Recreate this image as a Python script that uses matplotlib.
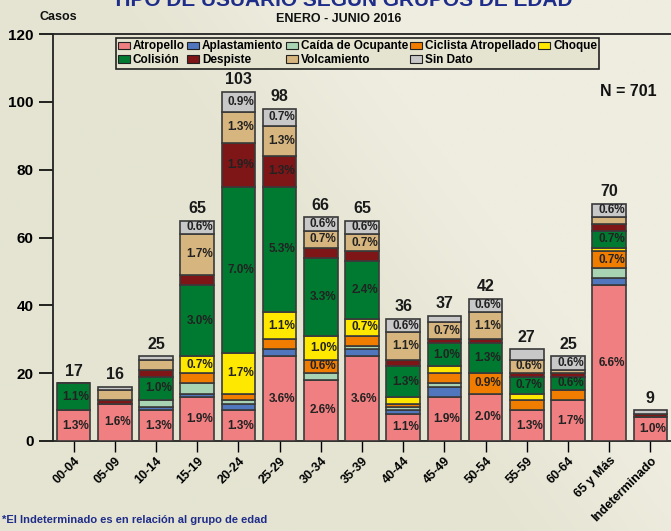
import numpy as np
import matplotlib
matplotlib.use('Agg')
from matplotlib import pyplot as plt
from matplotlib.patches import Patch

plt.rcParams['font.family'] = ['Liberation Sans', 'DejaVu Sans']

grupos = ['00-04', '05-09', '10-14', '15-19', '20-24', '25-29', '30-34', '35-39',
          '40-44', '45-49', '50-54', '55-59', '60-64', '65 y Más', 'Indeterminado']

atropello     = [9, 11, 9, 13, 9, 25, 18, 25, 8, 13, 14, 9, 12, 46, 7]
aplastamiento = [0, 0, 1, 1, 2, 2, 0, 2, 1, 3, 0, 0, 0, 2, 0]
caida         = [0, 0, 2, 3, 1, 0, 2, 1, 1, 1, 0, 0, 0, 3, 0]
ciclista      = [0, 0, 0, 3, 2, 3, 4, 3, 1, 3, 6, 3, 3, 5, 0]
choque        = [0, 0, 0, 5, 12, 8, 7, 5, 2, 2, 0, 2, 0, 1, 0]
colision      = [8, 0, 7, 21, 49, 37, 23, 17, 9, 7, 9, 5, 4, 5, 0]
despiste      = [0, 1, 2, 3, 13, 9, 3, 3, 2, 1, 1, 1, 1, 2, 1]
volcamiento   = [0, 3, 3, 12, 9, 9, 5, 5, 8, 5, 8, 4, 1, 2, 0]
sin_dato      = [0, 1, 1, 4, 6, 5, 4, 4, 4, 2, 4, 3, 4, 4, 1]

series = [
    ('Atropello', atropello, '#EF7F80'),
    ('Aplastamiento', aplastamiento, '#5077BE'),
    ('Caída de Ocupante', caida, '#A8D4B4'),
    ('Ciclista Atropellado', ciclista, '#F07D00'),
    ('Choque', choque, '#FFE800'),
    ('Colisión', colision, '#007A30'),
    ('Despiste', despiste, '#7E1517'),
    ('Volcamiento', volcamiento, '#D7B57E'),
    ('Sin Dato', sin_dato, '#C9C8C8'),
]
N_TOTAL = 701

fig = plt.figure(figsize=(6.71, 5.31), dpi=100)

# fondo beige con un degradado suave
bg = fig.add_axes([0, 0, 1, 1], zorder=-10)
yy, xx = np.mgrid[0:1:200j, 0:1:200j]
t = np.clip((xx + (1 - yy) * 0.6 - 0.75) * 3, 0, 1)
base = np.array([229, 228, 210]) / 255
light = np.array([238, 237, 224]) / 255
img = base[None, None, :] * (1 - t[..., None]) + light[None, None, :] * t[..., None]
bg.imshow(img, aspect='auto', extent=[0, 1, 0, 1], origin='upper')
bg.axis('off')

ax = fig.add_axes([53 / 671, 1 - 441 / 531, 1 - 53 / 671, (441 - 34) / 531])
ax.patch.set_alpha(0)

x = np.arange(len(grupos))
bottom = np.zeros(len(grupos))
for nombre, vals, color in series:
    vals = np.array(vals, dtype=float)
    ax.bar(x, vals, 0.82, bottom=bottom, color=color, edgecolor='#3a3a3a',
           linewidth=1.2, label=nombre, zorder=3)
    for i, v in enumerate(vals):
        if v >= 4:
            ax.text(x[i] + 0.06, bottom[i] + v / 2, f'{v / N_TOTAL * 100:.1f}%',
                    ha='center', va='center', fontsize=8.5, fontweight='bold',
                    color='#222222', zorder=5)
    bottom += vals

for i, tot in enumerate(bottom):
    ax.text(x[i], tot + 1.3, f'{int(tot)}', ha='center', va='bottom',
            fontsize=11.5, fontweight='bold', color='#1a1a1a')

ax.set_xlim(-0.5, 14.5)
ax.set_ylim(0, 120)
ax.set_yticks(range(0, 121, 20))
ax.set_xticks(x)
ax.set_xticklabels(grupos, rotation=45, ha='right', rotation_mode='anchor',
                   fontsize=9, fontweight='bold')
for lab in ax.get_yticklabels():
    lab.set_fontweight('bold')
    lab.set_fontsize(11)
ax.tick_params(axis='y', length=10, width=1.2, direction='out', pad=4)
ax.tick_params(axis='x', length=8, width=1, direction='out', pad=2)
ax.spines['right'].set_visible(False)
for s in ['left', 'bottom', 'top']:
    ax.spines[s].set_linewidth(1.3)
    ax.spines[s].set_color('#222222')

# leyenda en filas (orden fila por fila)
handles = [Patch(facecolor=c, edgecolor='#222222', linewidth=0.8, label=n)
           for n, _, c in series]
orden = [0, 5, 1, 6, 2, 7, 3, 8, 4]
leg = ax.legend([handles[i] for i in orden], [series[i][0] for i in orden],
                ncol=5, loc='upper left', bbox_to_anchor=(0.095, 1.0),
                prop={'weight': 'bold', 'size': 8.5},
                handlelength=1.0, handleheight=0.6, handletextpad=0.25,
                columnspacing=0.2, labelspacing=0.15, borderpad=0.2,
                borderaxespad=0.35,
                frameon=True, fancybox=False, facecolor='#E5E4D0',
                edgecolor='#222222', framealpha=1)
leg.get_frame().set_linewidth(1.2)

fig.text(0.51, 1 - 6 / 531, 'TIPO DE USUARIO SEGÚN GRUPOS DE EDAD', ha='center',
         va='baseline', fontsize=15, fontweight='bold', color='#1F2D8A')
fig.text(0.505, 1 - 19 / 531, 'ENERO - JUNIO 2016', ha='center', va='center',
         fontsize=9, fontweight='bold', color='#111111')
fig.text(40 / 671, 1 - 17 / 531, 'Casos', ha='left', va='center',
         fontsize=9, fontweight='bold', color='#111111')
fig.text(628 / 671, 1 - 91 / 531, 'N = 701', ha='center', va='center',
         fontsize=11.5, fontweight='bold', color='#111111')
fig.text(2 / 671, 1 - 520 / 531, '*El Indeterminado es en relación al grupo de edad',
         ha='left', va='center', fontsize=8, fontweight='bold', color='#1F2D8A')

fig.savefig('out.png', dpi=100, facecolor=fig.get_facecolor())
